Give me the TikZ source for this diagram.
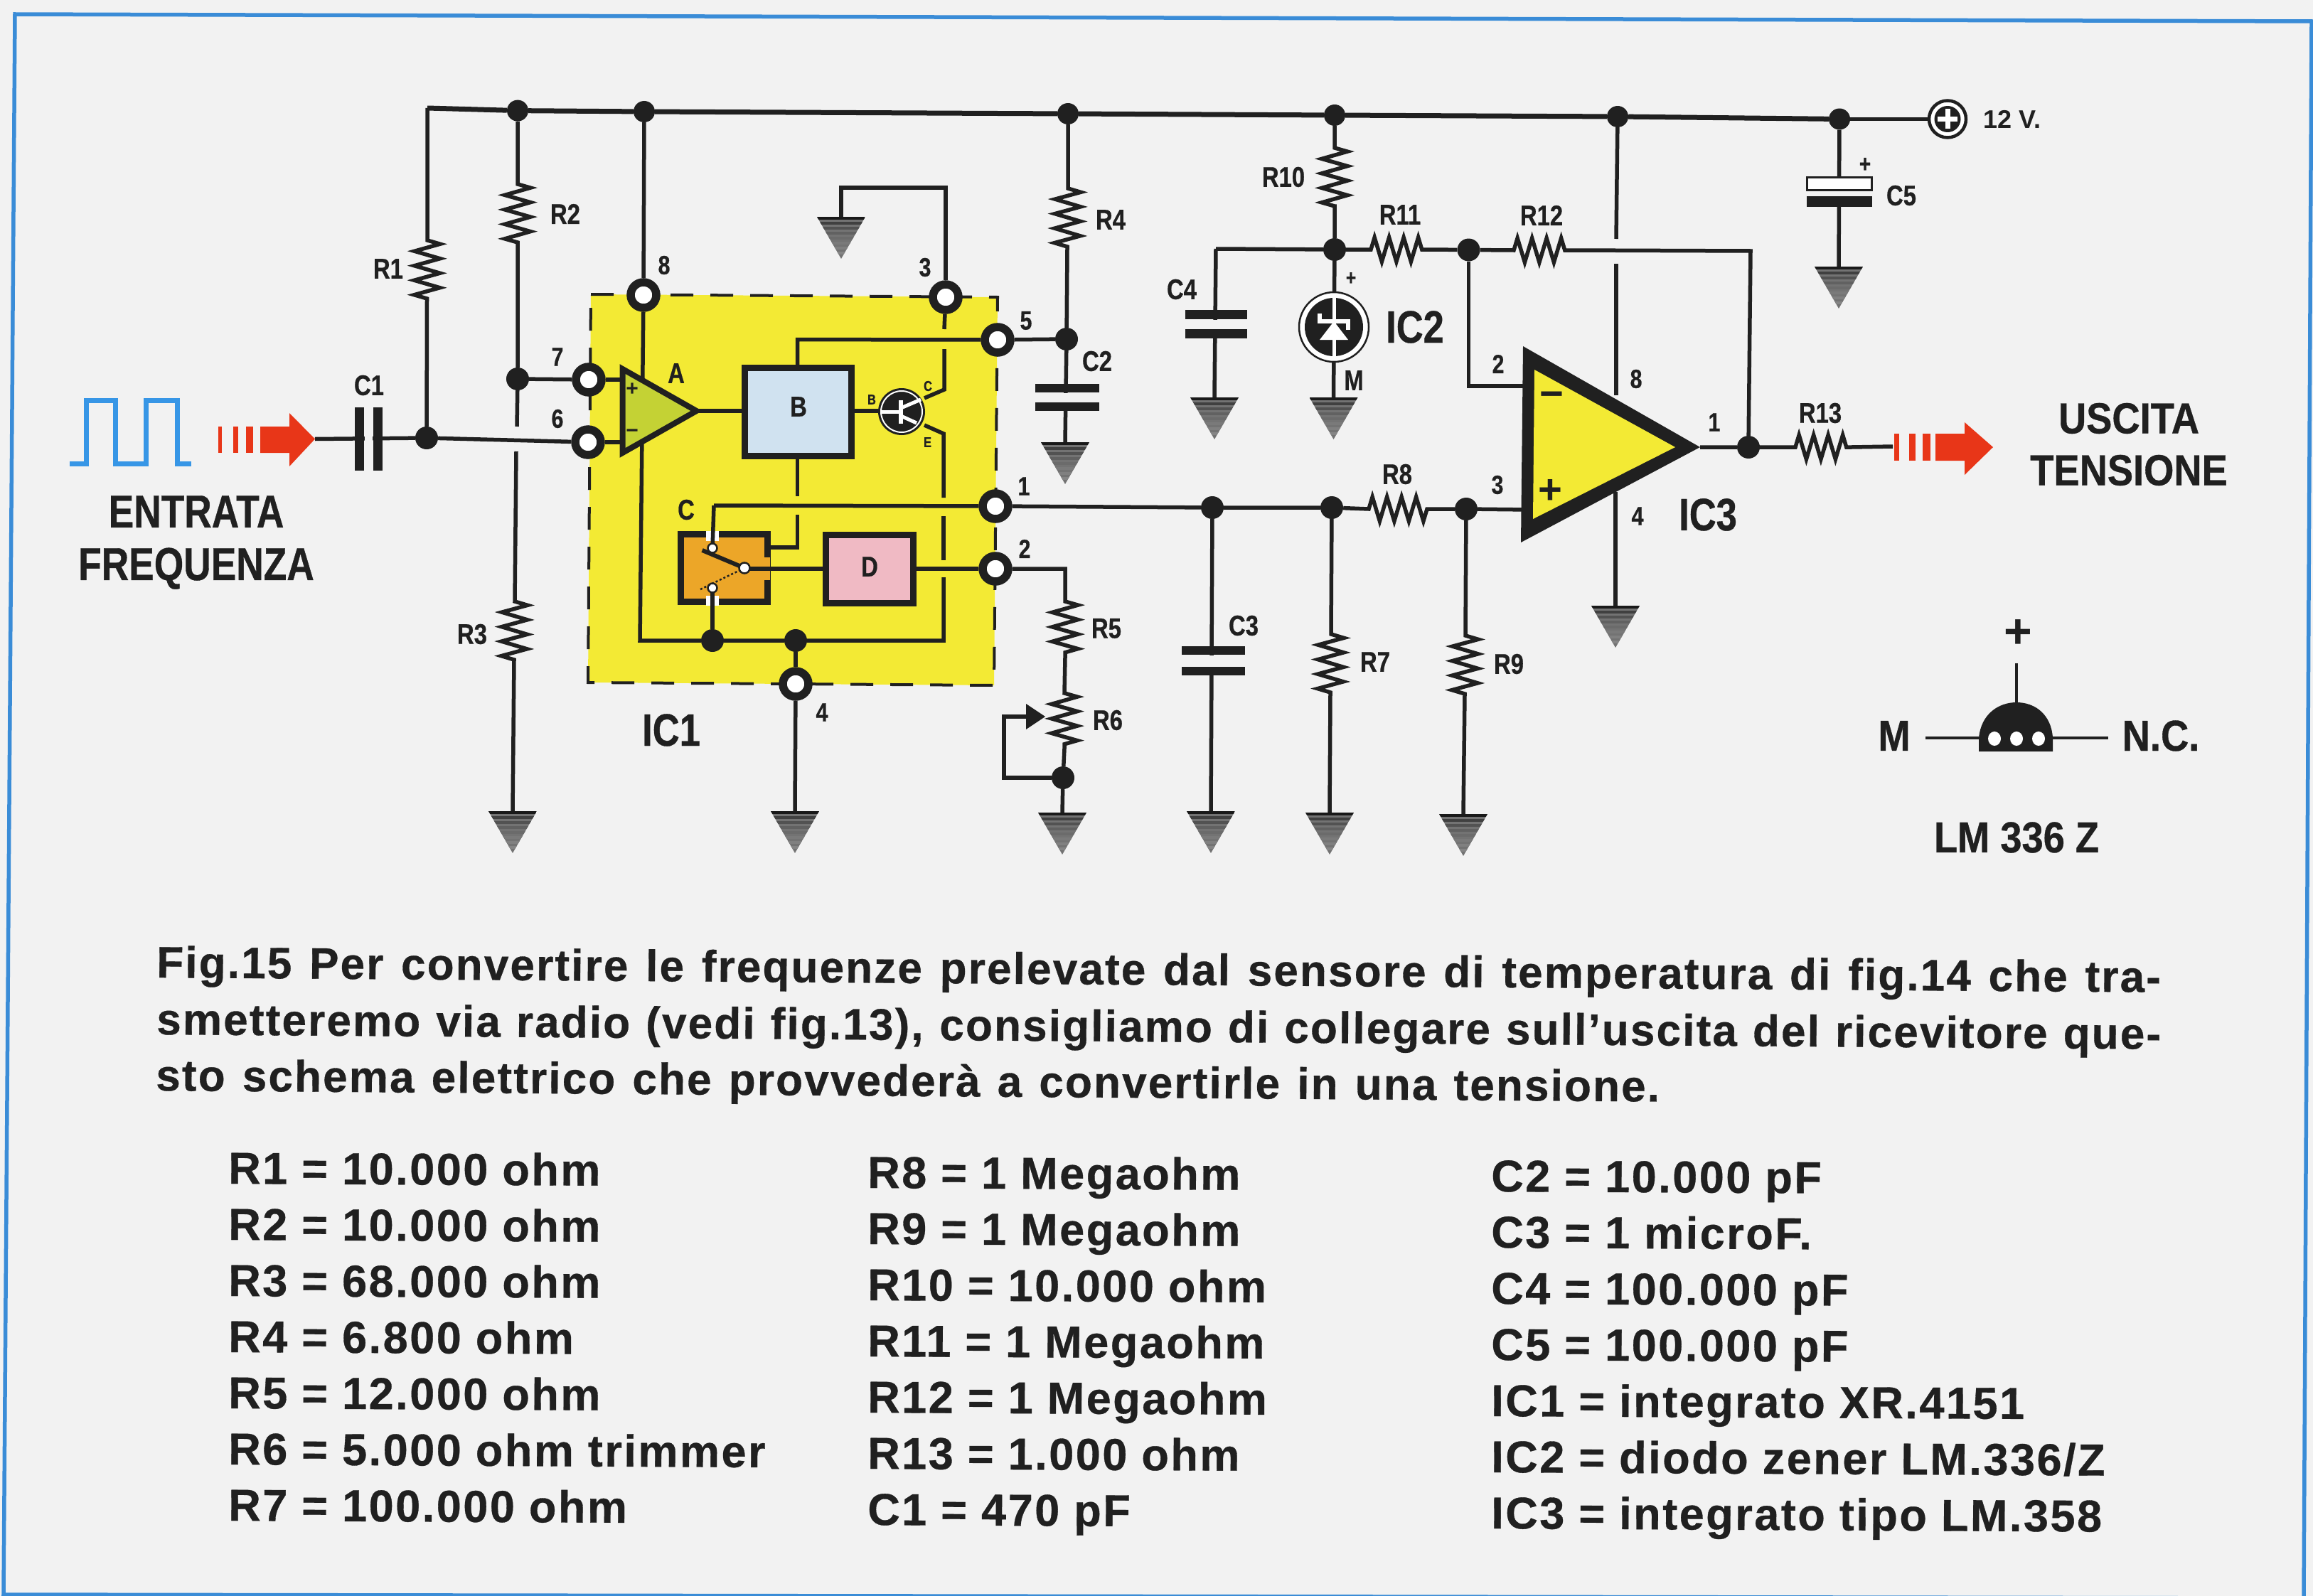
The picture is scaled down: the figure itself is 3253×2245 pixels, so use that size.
\documentclass[tikz,border=0pt]{standalone}
\usepackage{fontspec}
\usetikzlibrary{decorations.pathmorphing,arrows.meta}
\setmainfont{Liberation Sans}
\newfontfamily\fcond{Liberation Sans}[FakeStretch=0.82,FakeBold=0.6]
\newfontfamily\fwide{Liberation Sans}[FakeStretch=0.89,FakeBold=0.6]
\newfontfamily\ftext{Liberation Sans}[LetterSpace=3.5,FakeBold=0.5]
\newfontfamily\flist{Liberation Sans}[LetterSpace=4,FakeBold=0.5]
\definecolor{ink}{RGB}{32,32,32}
\definecolor{paper}{RGB}{242,242,242}
\definecolor{edge}{RGB}{58,140,215}
\definecolor{icyellow}{RGB}{243,234,52}
\definecolor{opgreen}{RGB}{196,210,52}
\definecolor{boxblue}{RGB}{208,226,240}
\definecolor{boxorange}{RGB}{236,166,40}
\definecolor{boxpink}{RGB}{240,186,196}
\definecolor{arrowred}{RGB}{232,54,24}
\definecolor{wavec}{RGB}{55,150,230}
\tikzset{
  wire/.style={draw=ink,line width=5.5pt,line join=miter},
  railw/.style={draw=ink,line width=7pt},
  thinwire/.style={draw=ink,line width=4pt},
  zz/.style={decoration={zigzag,segment length=20.5pt,amplitude=18pt}},
  zzh/.style={decoration={zigzag,segment length=20.5pt,amplitude=17pt}},
  jdot/.style={circle,fill=ink,inner sep=0pt,minimum size=32pt},
  portc/.style={circle,draw=ink,fill=white,line width=11.5pt,inner sep=0pt,minimum size=36pt},
  contact/.style={circle,draw=ink,fill=white,line width=2.5pt,inner sep=0pt,minimum size=13pt},
  lab/.style={inner sep=0pt,text=ink,font=\fcond\bfseries\fontsize{40}{44}\selectfont},
  pinlab/.style={lab,font=\fcond\bfseries\fontsize{37}{40}\selectfont},
  biglab/.style={lab,font=\fcond\bfseries\fontsize{64}{70}\selectfont},
  widelab/.style={lab,align=center,font=\fwide\bfseries\fontsize{61}{73}\selectfont},
  blockbox/.style={draw=ink,line width=8.5pt,inner sep=0pt},
  capline/.style={anchor=base west,rotate=-0.42,inner sep=0pt,text=ink,font=\ftext\bfseries\fontsize{62}{62}\selectfont},
  lstline/.style={anchor=base west,rotate=-0.3,inner sep=0pt,text=ink,font=\flist\bfseries\fontsize{63}{63}\selectfont},
  plate/.style={fill=ink,draw=none},
  gnd/.pic={
    \begin{scope}
      \clip (-34,0) -- (34,0) -- (0,59) -- cycle;
      \fill[black!55] (-34,0) rectangle (34,59);
      \foreach \yy/\gg in {0/90,7/75,14/68,21/62,28/58,35/52,42/50,49/48}
        \fill[black!\gg] (-34,\yy) rectangle (34,\yy+4);
    \end{scope}
  }
}
\begin{document}
\begin{tikzpicture}[x=1pt,y=-1pt]
\useasboundingbox (0,0) rectangle (3253,2245);
\fill[paper] (0,0) rectangle (3253,2245);
\draw[edge,line width=5.5pt,line join=miter] (21,20) -- (3251,30) -- (3240,2248) -- (5,2243) -- cycle;

% IC1 box
\fill[icyellow] (831,414) -- (1403,418) -- (1398,964) -- (827,960) -- cycle;
\draw[ink,line width=4pt,dash pattern=on 32pt off 24pt] (831,414) -- (1403,418) -- (1398,964) -- (827,960) -- cycle;

% junction and port nodes
\node[jdot,minimum size=30pt] (j1) at (728,155.6) {};
\node[jdot,minimum size=30pt] (j2) at (906,157) {};
\node[jdot,minimum size=30pt] (j3) at (1502,160) {};
\node[jdot,minimum size=30pt] (j4) at (1877,162) {};
\node[jdot,minimum size=30pt] (j5) at (2275,164) {};
\node[jdot,minimum size=30pt] (j6) at (2587,167.5) {};
\node[jdot] (jin) at (600,616) {};
\node[jdot] (j7) at (728,533) {};
\node[jdot] (jc2) at (1500,477) {};
\node[jdot] (jc3) at (1705,714) {};
\node[jdot] (jr7) at (1873,714) {};
\node[jdot] (jr9) at (2062,716) {};
\node[jdot] (jz) at (1877,351) {};
\node[jdot] (jfb) at (2065.5,351.5) {};
\node[jdot] (jout) at (2459,629) {};
\node[jdot] (jr6) at (1495,1094) {};
\node[jdot] (jbusa) at (1002,901) {};
\node[jdot] (jbusb) at (1119,901) {};
\coordinate (railstart) at (601,152);
\node[circle,draw=ink,fill=white,line width=4.5pt,minimum size=52pt,inner sep=0pt] (vcc) at (2739,167.5) {};
\node[portc] (p8) at (905,415) {};
\node[portc] (p3) at (1330,418) {};
\node[portc] (p5) at (1403,478) {};
\node[portc] (p1) at (1400,712) {};
\node[portc] (p2) at (1400,800) {};
\node[portc] (p4) at (1119,962) {};
\node[portc] (p7) at (828,534) {};
\node[portc] (p6) at (827,622) {};

% rail
\draw[railw] (railstart) -- (j1) -- (j2) -- (j3) -- (j4) -- (j5) -- (j6);
\draw[draw=ink,line width=5pt] (j6) -- (vcc);

% free coordinates of the external parts
\coordinate (r1a) at (601,338); \coordinate (r1b) at (600.5,421);
\coordinate (r2a) at (728,259); \coordinate (r2b) at (728,342);
\coordinate (gapa) at (727,600); \coordinate (gapb) at (726,635);
\coordinate (r3a) at (724,846); \coordinate (r3b) at (723,929);
\coordinate (g3) at (721,1141);
\coordinate (r4a) at (1502,265); \coordinate (r4b) at (1501,349);
\coordinate (g2) at (1498,622);
\coordinate (g3c) at (1703,1141);
\coordinate (r7a) at (1872,892); \coordinate (r7b) at (1871,975);
\coordinate (g7) at (1870,1143);
\coordinate (r9a) at (2061,894); \coordinate (r9b) at (2060,977);
\coordinate (g9) at (2058,1145);
\coordinate (g4) at (1118,1141);
\coordinate (r5top) at (1498,800);
\coordinate (r5a) at (1498,846); \coordinate (r5b) at (1498,925);
\coordinate (r6a) at (1497,975); \coordinate (r6b) at (1497,1053);
\coordinate (g6) at (1494,1143);
\coordinate (r8a) at (1925,716); \coordinate (r8b) at (2008,716);
\coordinate (r10a) at (1877,208); \coordinate (r10b) at (1877,290);
\coordinate (r11a) at (1928,351); \coordinate (r11b) at (2008,351);
\coordinate (r12a) at (2129,352); \coordinate (r12b) at (2209,352);
\coordinate (fbc) at (2462,353);
\coordinate (r13a) at (2525,629); \coordinate (r13b) at (2604,629);
\coordinate (arrin) at (2662,628);
\coordinate (gz) at (1875.5,559); \coordinate (gc4) at (1708,559);
\coordinate (c4c) at (1710,350);
\coordinate (g5) at (2586,375);
\coordinate (gtop) at (1183,305);
\coordinate (gtopa) at (1183,264); \coordinate (gtopb) at (1330,264);
\coordinate (in2) at (2065.5,543); \coordinate (in2b) at (2150,543);
\coordinate (in3) at (2150,717);
\coordinate (p8a) at (2273,336); \coordinate (p8b) at (2273,371); \coordinate (p8c) at (2273,556);
\coordinate (p4a) at (2272,692); \coordinate (g4op) at (2272,852);
\coordinate (arrtip) at (443,617.5);

% external wires and resistors
\draw[wire] (railstart) -- (r1a) decorate[zz]{-- (r1b)} -- (jin);
\draw[wire] (j1) -- (r2a) decorate[zz]{-- (r2b)} -- (j7) -- (gapa);
\draw[wire] (gapb) -- (r3a) decorate[zz]{-- (r3b)} -- (g3);
\draw[wire] (j7) -- (p7);
\draw[wire] (arrtip) -- (jin) -- (p6);
\draw[wire] (j3) -- (r4a) decorate[zz]{-- (r4b)} -- (jc2) -- (g2);
\draw[wire] (jc2) -- (p5);
\draw[wire] (gtop) -- (gtopa) -- (gtopb) -- (p3);
\draw[wire] (j2) -- (p8);
\draw[wire] (p1) -- (jc3) -- (jr7) -- (r8a) decorate[zzh]{-- (r8b)} -- (jr9) -- (in3);
\draw[wire] (jc3) -- (g3c);
\draw[wire] (jr7) -- (r7a) decorate[zz]{-- (r7b)} -- (g7);
\draw[wire] (jr9) -- (r9a) decorate[zz]{-- (r9b)} -- (g9);
\draw[wire] (p2) -- (r5top) -- (r5a) decorate[zz]{-- (r5b)} -- (r6a) decorate[zz]{-- (r6b)} -- (jr6) -- (g6);
\coordinate (trimc) at (1412,1094); \coordinate (trimt) at (1412,1008); \coordinate (trimh) at (1470,1008);
\draw[wire] (jr6) -- (trimc) -- (trimt) -- (1448,1008);
\fill[ink] (trimh) -- (1443,990) -- (1443,1026) -- cycle;
\draw[wire] (p4) -- (g4);
\draw[wire] (j4) -- (r10a) decorate[zz]{-- (r10b)} -- (jz);
\draw[wire] (c4c) -- (jz) -- (r11a) decorate[zzh]{-- (r11b)} -- (jfb) -- (r12a) decorate[zzh]{-- (r12b)} -- (fbc) -- (jout);
\draw[wire] (c4c) -- (gc4);
\draw[wire] (jz) -- (gz);
\draw[wire] (jfb) -- (in2) -- (in2b);
\draw[wire] (j5) -- (p8a);
\draw[wire] (p8b) -- (p8c);
\draw[wire] (p4a) -- (g4op);
\draw[wire] (2391,629) -- (jout) -- (r13a) decorate[zzh]{-- (r13b)} -- (arrin);

% capacitors
\fill[plate] (499,573) rectangle (512,662);
\fill[plate] (525,573) rectangle (538,662);
\fill[paper] (513,605) rectangle (524,630);
\fill[plate] (1456,540) rectangle (1546,552);
\fill[plate] (1456,566) rectangle (1546,578);
\fill[paper] (1490,552.5) rectangle (1510,565.5);
\fill[paper] (1695,921.5) rectangle (1715,937.5);
\fill[plate] (1662,909) rectangle (1751,921);
\fill[plate] (1662,938) rectangle (1751,950);
\fill[paper] (1700,449.5) rectangle (1720,462.5);
\fill[plate] (1667,436) rectangle (1754,449);
\fill[plate] (1667,463) rectangle (1754,476);
% C5
\draw[wire] (j6) -- (g5);
\fill[paper] (2541,267) rectangle (2633,276);
\draw[fill=white,draw=ink,line width=3pt] (2541,250) rectangle (2632,267);
\fill[plate] (2541,276) rectangle (2633,291);
\node[lab,font=\fcond\bfseries\fontsize{34}{34}\selectfont] (c5p) at (2623,232) {+};

% grounds
\foreach \g in {g3,g2,g3c,g7,g9,g4,g6,gz,gc4,g5,gtop,g4op} \pic at (\g) {gnd};

% IC2 zener
\node[circle,fill=white,draw=ink,line width=2.5pt,minimum size=98pt,inner sep=0pt] (ic2c) at (1876,460) {};
\fill[ink] (ic2c.center) circle[radius=41];
\draw[white,line width=5pt] (1876,419) -- (1876,502);
\draw[white,line width=6pt] (1856,441) -- (1856,452) -- (1896,452) -- (1896,464);
\fill[white] (1876,452) -- (1856,478) -- (1896,478) -- cycle;
\node[lab,font=\fcond\bfseries\fontsize{30}{30}\selectfont] (zp) at (1900,392) {+};

% IC1 internals: wires first
\coordinate (busl) at (900,901); \coordinate (busr) at (1327,901);
\coordinate (vtop) at (1121.5,477.6); \coordinate (bb) at (1121.5,697.6); \coordinate (bc) at (1121.5,724);
\coordinate (bd) at (1121.5,770); \coordinate (be) at (1081,770);
\coordinate (w1) at (1004,711);
\draw[wire] (p8) -- (busl) -- (jbusa) -- (jbusb) -- (busr) -- (1327,812);
\draw[wire] (1327,787.6) -- (1327,726);
\draw[wire] (1327,700) -- (1327,610) -- (1300,598);
\draw[wire] (p3) -- (1328,463);
\draw[wire] (1328,491) -- (1328,548) -- (1300,560);
\draw[wire] (p5) -- (vtop) -- (1121.5,530);
\draw[wire] (1121.5,630) -- (bb);
\draw[wire] (bc) -- (bd) -- (be);
\draw[wire] (p7) -- (880,534);
\draw[wire] (p6) -- (880,622);
\draw[wire] (p4) -- (jbusb);
\draw[wire] (980,578) -- (1060,578);
\draw[wire] (1190,578) -- (1245,578);
\draw[wire] (p1) -- (w1);
\draw[wire] (jbusa) -- (1002,835);
\draw[wire] (1040,800) -- (1170,800);
\draw[wire] (1280,800) -- (p2);

% op amp A
\draw[draw=ink,fill=opgreen,line width=8pt,miter limit=4] (875.5,519) -- (979.5,578) -- (875.5,637) -- cycle;
\node[lab,font=\bfseries\fontsize{30}{30}\selectfont] (ap) at (889,548) {+};
\node[lab,font=\bfseries\fontsize{30}{30}\selectfont] (am) at (889,610) {−};
\node[lab] (la) at (951,525) {A};

% blocks
\node[blockbox,fill=boxblue,minimum width=150pt,minimum height=124pt] (bB) at (1122.5,579.5) {};
\node[lab] (lb) at (1123,572) {B};
\node[blockbox,fill=boxorange,minimum width=122pt,minimum height=95pt] (bC) at (1018.5,799) {};
\fill[boxorange] (1074,784) rectangle (1083,816);
\draw[wire] (1040,800) -- (1090,800);
\node[blockbox,fill=boxpink,minimum width=123pt,minimum height=96pt] (bD) at (1223,800.5) {};
\node[lab] (ld) at (1223,797) {D};
\node[lab] (lc) at (965,717) {C};
\fill[white] (993,747) rectangle (1011,761);
\fill[white] (993,838) rectangle (1011,852);
\draw[wire] (w1) -- (1002,771);
\draw[wire] (jbusa) -- (1002,827);
\node[contact] (ct) at (1002,771) {};
\node[contact] (cb) at (1002,827) {};
\draw[ink,line width=6pt] (987.6,774) -- (1047,799);
\draw[ink,line width=2.5pt,dashed] (985,829) -- (1047,799);
\node[contact,minimum size=15pt] (cp) at (1047,799) {};

% transistor
\node[circle,fill=ink,draw=none,minimum size=66pt,inner sep=0pt] (q) at (1268,579) {};
\draw[white,line width=2pt] (q.center) circle[radius=29];
\draw[white,line width=5pt] (1240,579) -- (1267,579);
\draw[white,line width=6pt] (1267,563) -- (1267,596);
\draw[white,line width=5pt] (1267,574) -- (1295,562);
\draw[white,line width=5pt] (1267,585) -- (1289,595);
\node[lab,font=\fcond\bfseries\fontsize{20}{20}\selectfont] (qb) at (1226,562) {B};
\node[lab,font=\fcond\bfseries\fontsize{20}{20}\selectfont] (qc) at (1305,543) {C};
\node[lab,font=\fcond\bfseries\fontsize{20}{20}\selectfont] (qe) at (1304.5,622) {E};

% op amp IC3
\fill[ink] (2142,487) -- (2391,629) -- (2139,763) -- cycle;
\fill[icyellow] (2158,520) -- (2356,629) -- (2156,730) -- cycle;
\node[lab,font=\bfseries\fontsize{58}{58}\selectfont] (im) at (2182,562) {−};
\node[lab,font=\bfseries\fontsize{58}{58}\selectfont] (ip) at (2180,691) {+};

% vcc terminal plus
\fill[ink] (vcc.center) circle[radius=18.5];
\draw[white,line width=7pt] (2725,167.5) -- (2753,167.5) (2739,153.5) -- (2739,181.5);

% square wave
\coordinate (w0) at (98,652);
\draw[wavec,line width=7pt,line join=miter] (w0) -- (121,652) -- (121,563) -- (162,563) -- (162,652) -- (205,652) -- (205,563) -- (249,563) -- (249,652) -- (269,652);

% arrows
\fill[arrowred] (307,600) rectangle (312,637);
\fill[arrowred] (328,600) rectangle (335,637);
\fill[arrowred] (346,600) rectangle (356,637);
\fill[arrowred] (366,600) -- (407,600) -- (407,581) -- (arrtip) -- (407,656) -- (407,637) -- (366,637) -- cycle;
\fill[arrowred] (2664,610) rectangle (2671,648);
\fill[arrowred] (2685,610) rectangle (2694,648);
\fill[arrowred] (2704,610) rectangle (2715,648);
\fill[arrowred] (2722,610) -- (2763,610) -- (2763,594) -- (2803,629) -- (2763,668) -- (2763,648) -- (2722,648) -- cycle;

% LM336 symbol
\coordinate (plusb) at (2836,933); \coordinate (domet) at (2836,988);
\coordinate (ml) at (2708,1038); \coordinate (nr) at (2965,1038);
\coordinate (dl) at (2783,1038); \coordinate (dr) at (2887,1038);
\draw[thinwire] (plusb) -- (domet);
\draw[thinwire] (ml) -- (dl);
\draw[thinwire] (dr) -- (nr);
\fill[ink] (2783,1057) -- (2783,1038) .. controls (2786,1005) and (2810,988) .. (domet) .. controls (2862,988) and (2885,1005) .. (2887,1038) -- (2887,1057) -- cycle;
\foreach \hx in {2805,2836,2867} \fill[white] (\hx,1039) ellipse[x radius=9,y radius=10];

% labels
\foreach \n/\x/\y/\t in {l1/546/378/R1,l2/795/301/R2,l3/664/892/R3,l4/1562/309/R4,l5/1556/884/R5,l6/1558/1013/R6,l7/1934/931/R7,l8/1965/667/R8,l9/2122/934/R9,l10/1805/249/R10,l11/1969/302/R11,l12/2168/303/R12,l13/2560/581/R13,lc1/519/542/C1,lc2/1543/508/C2,lc3/1749/880/C3,lc4/1662/407/C4,lc5/2674/275/C5,lm/1904/535/M}
  \node[lab] (\n) at (\x,\y) {\t};
\foreach \n/\x/\y/\t in {n8/934/373/8,n3/1301/376/3,n5/1443/451/5,n1/1440/684/1,n2/1441/772/2,n7/784/502/7,n6/784/589/6,n4/1156/1002/4,m2/2107/512/2,m3/2106/682/3,m8/2301/533/8,m1/2411/594/1,m4/2303/726/4}
  \node[pinlab] (\n) at (\x,\y) {\t};
\node[biglab] (lic1) at (944,1027) {IC1};
\node[biglab] (lic2) at (1990,460) {IC2};
\node[biglab] (lic3) at (2402,724) {IC3};
\node[lab,font=\bfseries\fontsize{36}{36}\selectfont] (lv) at (2830,167.5) {12 V.};
\node[lab,align=center,font=\fcond\bfseries\fontsize{65}{74}\selectfont] (lin) at (276,763) {ENTRATA\\FREQUENZA};
\node[widelab] (lout) at (2994,625) {USCITA\\TENSIONE};
\node[lab,font=\bfseries\fontsize{68}{68}\selectfont] (lplus) at (2838,892) {+};
\node[widelab] (lM) at (2664,1035) {M};
\node[widelab] (lNC) at (3039,1035) {N.C.};
\node[widelab] (lLM) at (2836,1178) {LM 336 Z};

% caption
\node[capline] (t1) at (220,1375) {\makebox[2819pt][s]{Fig.15 Per convertire le frequenze prelevate dal sensore di temperatura di fig.14 che tra-}};
\node[capline] (t2) at (220,1455) {\makebox[2819pt][s]{smetteremo via radio (vedi fig.13), consigliamo di collegare sull’uscita del ricevitore que-}};
\node[capline] (t3) at (219,1534) {\makebox[2115pt][s]{sto schema elettrico che provvederà a convertirle in una tensione.}};

% parts list
\foreach \n/\r/\t in {a1/0/R1 = 10.000 ohm,a2/1/R2 = 10.000 ohm,a3/2/R3 = 68.000 ohm,a4/3/R4 = 6.800 ohm,a5/4/R5 = 12.000 ohm,a6/5/R6 = 5.000 ohm trimmer,a7/6/R7 = 100.000 ohm}
  \node[lstline] (\n) at (321,1665+79*\r) {\t};
\foreach \n/\r/\t in {b1/0/R8 = 1 Megaohm,b2/1/R9 = 1 Megaohm,b3/2/R10 = 10.000 ohm,b4/3/R11 = 1 Megaohm,b5/4/R12 = 1 Megaohm,b6/5/R13 = 1.000 ohm,b7/6/C1 = 470 pF}
  \node[lstline] (\n) at (1220,1671+79*\r) {\t};
\foreach \n/\r/\t in {c1/0/C2 = 10.000 pF,c2/1/C3 = 1 microF.,c3/2/C4 = 100.000 pF,c4/3/C5 = 100.000 pF,c5/4/IC1 = integrato XR.4151,c7/6/IC3 = integrato tipo LM.358}
  \node[lstline] (\n) at (2097,1676+79*\r) {\t};
\node[lstline] (c6) at (2097,2071) {IC2 = diodo zener LM.336/Z};
\end{tikzpicture}
\end{document}
